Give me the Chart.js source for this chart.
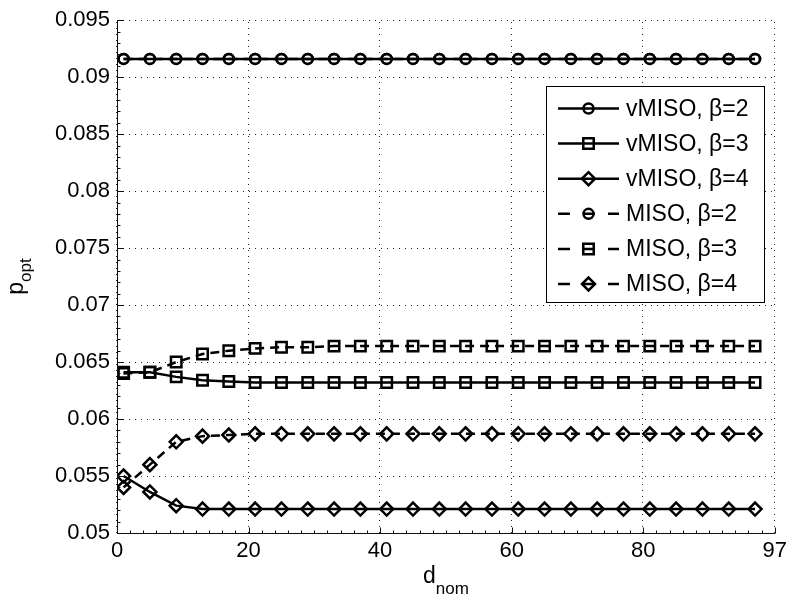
<!DOCTYPE html>
<html>
<head>
<meta charset="utf-8">
<script src="https://cdn.jsdelivr.net/npm/chart.js@4/dist/chart.umd.min.js"></script>
<style>
  html, body { margin: 0; padding: 0; background: #fff; }
  canvas { display: block; }
</style>
</head>
<body>
<canvas id="chart" width="792" height="608"></canvas>
<script>
// x values (d_nom) where every curve is sampled
const dNom = [1, 5, 9, 13, 17, 21, 25, 29, 33, 37, 41, 45, 49, 53, 57, 61, 65, 69, 73, 77, 81, 85, 89, 93, 97];

// p_opt
const vMisoB2 = [0.0916, 0.0916, 0.0916, 0.0916, 0.0916, 0.0916, 0.0916, 0.0916, 0.0916, 0.0916, 0.0916, 0.0916, 0.0916,
                 0.0916, 0.0916, 0.0916, 0.0916, 0.0916, 0.0916, 0.0916, 0.0916, 0.0916, 0.0916, 0.0916, 0.0916];
const vMisoB3 = [0.0641, 0.0641, 0.0637, 0.0634, 0.0633, 0.0632, 0.0632, 0.0632, 0.0632, 0.0632, 0.0632, 0.0632, 0.0632,
                 0.0632, 0.0632, 0.0632, 0.0632, 0.0632, 0.0632, 0.0632, 0.0632, 0.0632, 0.0632, 0.0632, 0.0632];
const vMisoB4 = [0.0550, 0.0536, 0.0524, 0.0521, 0.0521, 0.0521, 0.0521, 0.0521, 0.0521, 0.0521, 0.0521, 0.0521, 0.0521,
                 0.0521, 0.0521, 0.0521, 0.0521, 0.0521, 0.0521, 0.0521, 0.0521, 0.0521, 0.0521, 0.0521, 0.0521];
const misoB2  = [0.0916, 0.0916, 0.0916, 0.0916, 0.0916, 0.0916, 0.0916, 0.0916, 0.0916, 0.0916, 0.0916, 0.0916, 0.0916,
                 0.0916, 0.0916, 0.0916, 0.0916, 0.0916, 0.0916, 0.0916, 0.0916, 0.0916, 0.0916, 0.0916, 0.0916];
const misoB3  = [0.0640, 0.0641, 0.0650, 0.0657, 0.0660, 0.0662, 0.0663, 0.0663, 0.0664, 0.0664, 0.0664, 0.0664, 0.0664,
                 0.0664, 0.0664, 0.0664, 0.0664, 0.0664, 0.0664, 0.0664, 0.0664, 0.0664, 0.0664, 0.0664, 0.0664];
const misoB4  = [0.0540, 0.0560, 0.0580, 0.0585, 0.0586, 0.0587, 0.0587, 0.0587, 0.0587, 0.0587, 0.0587, 0.0587, 0.0587,
                 0.0587, 0.0587, 0.0587, 0.0587, 0.0587, 0.0587, 0.0587, 0.0587, 0.0587, 0.0587, 0.0587, 0.0587];

const seriesNames = ['vMISO, \u03B2=2', 'vMISO, \u03B2=3', 'vMISO, \u03B2=4', 'MISO, \u03B2=2', 'MISO, \u03B2=3', 'MISO, \u03B2=4'];

// axis ticks (the last x tick sits at 100 but is labelled 97 in the original)
const xTicks = [0, 20, 40, 60, 80, 100];
const xTickLabels = ['0', '20', '40', '60', '80', '97'];
const yTicks = [0.05, 0.055, 0.06, 0.065, 0.07, 0.075, 0.08, 0.085, 0.09, 0.095];
const yTickLabels = ['0.05', '0.055', '0.06', '0.065', '0.07', '0.075', '0.08', '0.085', '0.09', '0.095'];

const FONT = '"Liberation Sans", Arial, Helvetica, sans-serif';
const LW = 2.5;
const styles = [
  { pointStyle: 'circle', radius: 5, dash: [] },
  { pointStyle: 'rect', radius: 7.4, dash: [] },
  { pointStyle: 'rectRot', radius: 6.5, dash: [] },
  { pointStyle: 'circle', radius: 5, dash: [9, 6] },
  { pointStyle: 'rect', radius: 7.4, dash: [9, 6] },
  { pointStyle: 'rectRot', radius: 6.5, dash: [9, 6] }
];
const allSeries = [vMisoB2, vMisoB3, vMisoB4, misoB2, misoB3, misoB4];

const datasets = allSeries.map((vals, i) => ({
  label: seriesNames[i],
  data: dNom.map((x, j) => ({ x, y: vals[j] })),
  borderColor: '#000',
  borderWidth: LW,
  borderDash: styles[i].dash,
  tension: 0,
  pointStyle: styles[i].pointStyle,
  pointRadius: styles[i].radius,
  pointBorderWidth: LW,
  pointBorderColor: '#000',
  pointBackgroundColor: 'rgba(0,0,0,0)'
}));

// dotted grid drawn under the data
const dottedGrid = {
  id: 'dottedGrid',
  beforeDatasetsDraw(chart) {
    const ctx = chart.ctx;
    const xs = chart.scales.x, ys = chart.scales.y;
    const a = chart.chartArea;
    ctx.save();
    ctx.strokeStyle = '#222';
    ctx.lineWidth = 1;
    ctx.setLineDash([1, 5]);
    ctx.beginPath();
    xTicks.forEach(v => {
      const px = Math.round(xs.getPixelForValue(v)) - 0.5;
      ctx.moveTo(px, a.bottom); ctx.lineTo(px, a.top);
    });
    yTicks.forEach(v => {
      const py = Math.round(ys.getPixelForValue(v)) + 0.5;
      ctx.moveTo(a.left, py); ctx.lineTo(a.right, py);
    });
    ctx.stroke();
    ctx.restore();
  }
};

// inward major/minor tick marks, axis lines, axis titles with subscripts, matlab-like legend
const extras = {
  id: 'extras',
  afterDraw(chart) {
    const ctx = chart.ctx;
    const xs = chart.scales.x, ys = chart.scales.y;
    const a = chart.chartArea;
    ctx.save();
    ctx.strokeStyle = '#111';
    ctx.lineWidth = 1;
    ctx.setLineDash([]);
    ctx.beginPath();
    const bx = Math.round(a.left) + 0.5, by = Math.round(a.bottom) + 0.5;
    ctx.moveTo(bx, a.top); ctx.lineTo(bx, by); ctx.lineTo(a.right, by);
    for (let v = 0; v <= 100; v += 2) {
      const px = Math.round(xs.getPixelForValue(v)) + 0.5;
      const len = v % 20 === 0 ? 6 : 3;
      ctx.moveTo(px, by); ctx.lineTo(px, by - len);
    }
    for (let k = 0; k <= 45; k++) {
      const v = 0.05 + k * 0.001;
      const py = Math.round(ys.getPixelForValue(v)) + 0.5;
      const len = k % 5 === 0 ? 6 : 3;
      ctx.moveTo(bx, py); ctx.lineTo(bx + len, py);
    }
    ctx.stroke();

    // axis titles
    ctx.fillStyle = '#000';
    ctx.textBaseline = 'alphabetic';
    ctx.textAlign = 'left';
    ctx.font = '23px ' + FONT;
    const wd = ctx.measureText('d').width;
    ctx.font = '17px ' + FONT;
    const wn = ctx.measureText('nom').width;
    let sx = (a.left + a.right) / 2 - (wd + wn) / 2;
    ctx.font = '23px ' + FONT;
    ctx.fillText('d', sx, 583);
    ctx.font = '17px ' + FONT;
    ctx.fillText('nom', sx + wd, 594);

    ctx.save();
    ctx.translate(23, (a.top + a.bottom) / 2);
    ctx.rotate(-Math.PI / 2);
    ctx.font = '23px ' + FONT;
    const wp = ctx.measureText('p').width;
    ctx.font = '17px ' + FONT;
    const wo = ctx.measureText('opt').width;
    sx = -(wp + wo) / 2;
    ctx.font = '23px ' + FONT;
    ctx.fillText('p', sx, 0);
    ctx.font = '17px ' + FONT;
    ctx.fillText('opt', sx + wp, 8);
    ctx.restore();

    // legend
    const L = 546, T = 86, W = 218, H = 216;
    ctx.fillStyle = '#fff';
    ctx.fillRect(L, T, W, H);
    ctx.strokeStyle = '#000';
    ctx.lineWidth = 1;
    ctx.strokeRect(L + 0.5, T + 0.5, W, H);
    ctx.font = '23px ' + FONT;
    ctx.textBaseline = 'middle';
    seriesNames.forEach((name, i) => {
      const y = T + 22.5 + i * 35.1;
      ctx.save();
      ctx.lineWidth = LW;
      ctx.strokeStyle = '#000';
      ctx.setLineDash(styles[i].dash.length ? [12, 13] : []);
      ctx.beginPath();
      ctx.moveTo(L + 12, y); ctx.lineTo(L + 73, y);
      ctx.stroke();
      ctx.setLineDash([]);
      ctx.fillStyle = 'rgba(0,0,0,0)';
      Chart.helpers.drawPoint(ctx, { pointStyle: styles[i].pointStyle, radius: styles[i].radius, borderWidth: LW, rotation: 0 }, L + 42.5, y);
      ctx.restore();
      ctx.fillStyle = '#000';
      ctx.fillText(name, L + 80, y + 1);
    });
    ctx.restore();
  }
};

new Chart(document.getElementById('chart'), {
  type: 'line',
  data: { datasets },
  options: {
    responsive: false,
    animation: false,
    layout: { padding: { top: 14, right: 14, left: 0, bottom: 0 } },
    plugins: { legend: { display: false }, tooltip: { enabled: false } },
    scales: {
      x: {
        type: 'linear',
        min: 0, max: 100,
        afterBuildTicks: s => { s.ticks = xTicks.map(v => ({ value: v })); },
        afterFit: s => { s.height = 75; },
        ticks: {
          callback: (v, i) => xTickLabels[i],
          autoSkip: false, maxRotation: 0, padding: 5,
          color: '#000', font: { family: FONT, size: 22 }
        },
        grid: { display: false, drawTicks: false },
        border: { display: false }
      },
      y: {
        type: 'linear',
        min: 0.05, max: 0.095,
        afterBuildTicks: s => { s.ticks = yTicks.map(v => ({ value: v })); },
        afterFit: s => { s.width = 117; },
        ticks: {
          callback: (v, i) => yTickLabels[i],
          autoSkip: false, padding: 7,
          color: '#000', font: { family: FONT, size: 22 }
        },
        grid: { display: false, drawTicks: false },
        border: { display: false }
      }
    }
  },
  plugins: [dottedGrid, extras]
});
</script>
</body>
</html>
